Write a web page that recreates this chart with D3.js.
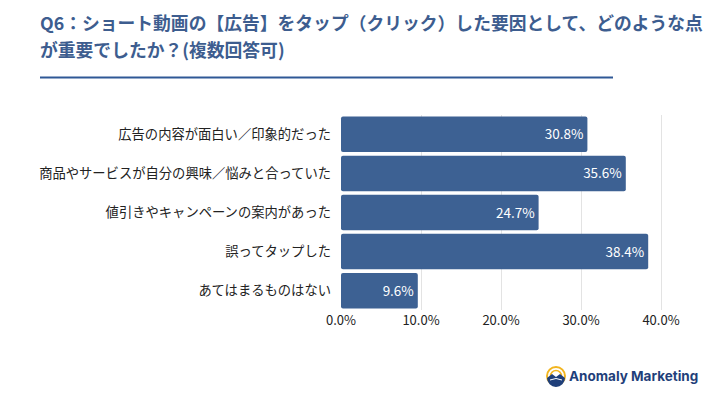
<!DOCTYPE html>
<html>
<head>
<meta charset="utf-8">
<script src="https://cdn.jsdelivr.net/npm/d3@7"></script>
<style>
  body { margin: 0; background: #fff; }
  text { font-family: "Noto Sans CJK JP", "Noto Sans", sans-serif; }
</style>
</head>
<body>
<div id="chart"></div>
<script>
var W = 720, H = 405;

// data
var categories = [
  "広告の内容が面白い／印象的だった",
  "商品やサービスが自分の興味／悩みと合っていた",
  "値引きやキャンペーンの案内があった",
  "誤ってタップした",
  "あてはまるものはない"
];
var values = [30.8, 35.6, 24.7, 38.4, 9.6];
var ticks = [0, 10, 20, 30, 40];

var barColor = "#3d6193";
var titleColor = "#3d5d8f";

var svg = d3.select("#chart")
    .append("svg")
    .attr("width", W)
    .attr("height", H);

svg.append("rect").attr("width", W).attr("height", H).attr("fill", "#fff");

// title
var title = svg.append("text")
    .attr("x", 40)
    .attr("fill", titleColor)
    .attr("font-size", 17.8)
    .attr("font-weight", 700);
title.append("tspan").attr("x", 40).attr("y", 30)
    .text("Q6：ショート動画の【広告】をタップ（クリック）した要因として、どのような点");
title.append("tspan").attr("x", 40).attr("y", 57)
    .text("が重要でしたか？(複数回答可)");

svg.append("line")
    .attr("x1", 40).attr("x2", 613)
    .attr("y1", 77.5).attr("y2", 77.5)
    .attr("stroke", "#2f5896")
    .attr("stroke-width", 2);

// scales
var x = d3.scaleLinear().domain([0, 40]).range([341, 661]);
var y = d3.scaleBand().domain(categories).range([115, 310]).paddingInner(0.09).paddingOuter(0.04);

// grid
svg.append("g")
    .selectAll("line")
    .data(ticks.slice(1))
    .enter()
    .append("line")
    .attr("x1", function(d){ return x(d) + 0.5 })
    .attr("x2", function(d){ return x(d) + 0.5 })
    .attr("y1", 115)
    .attr("y2", 310)
    .attr("stroke", "#e3e3e3")
    .attr("stroke-width", 1);

// x axis labels
svg.append("g")
    .selectAll("text")
    .data(ticks)
    .enter()
    .append("text")
    .attr("x", function(d){ return x(d) })
    .attr("y", 325)
    .attr("text-anchor", "middle")
    .attr("font-size", 13)
    .attr("fill", "#222")
    .text(function(d){ return d.toFixed(1) + "%" });

// bars
svg.append("g")
    .selectAll("rect")
    .data(values)
    .enter()
    .append("rect")
    .attr("x", x(0))
    .attr("y", function(d, i){ return y(categories[i]) })
    .attr("width", function(d){ return x(d) - x(0) })
    .attr("height", y.bandwidth())
    .attr("rx", 2)
    .attr("fill", barColor);

// value labels
svg.append("g")
    .selectAll("text")
    .data(values)
    .enter()
    .append("text")
    .attr("x", function(d){ return x(d) - 4 })
    .attr("y", function(d, i){ return y(categories[i]) + y.bandwidth() / 2 + 5 })
    .attr("text-anchor", "end")
    .attr("font-size", 13.5)
    .attr("fill", "#fff")
    .text(function(d){ return d.toFixed(1) + "%" });

// category labels
svg.append("g")
    .selectAll("text")
    .data(categories)
    .enter()
    .append("text")
    .attr("x", 331)
    .attr("y", function(d){ return y(d) + y.bandwidth() / 2 + 4.5 })
    .attr("text-anchor", "end")
    .attr("font-size", 13.3)
    .attr("fill", "#222")
    .text(function(d){ return d });

// logo
var logo = svg.append("g").attr("transform", "translate(556,376)");
logo.append("circle").attr("r", 9).attr("fill", "none").attr("stroke", "#f2b51f").attr("stroke-width", 2);
logo.append("circle").attr("r", 5.5).attr("fill", "none").attr("stroke", "#f2b51f").attr("stroke-width", 1.5);
logo.append("path")
    .attr("d", "M-9,2 L-4,-2 L0,1 L4,-2 L9,2 A9,9 0 0 1 -9,2 Z")
    .attr("fill", "#1f3f7a");
logo.append("path")
    .attr("d", "M-6,4 Q0,1 6,4")
    .attr("fill", "none").attr("stroke", "#fff").attr("stroke-width", 1);
svg.append("text")
    .attr("x", 569)
    .attr("y", 381)
    .attr("font-size", 13.5)
    .attr("font-weight", 700)
    .attr("fill", "#1f3f7a")
    .style("font-family", "Inter, 'Noto Sans', sans-serif")
    .text("Anomaly Marketing");
</script>
</body>
</html>
